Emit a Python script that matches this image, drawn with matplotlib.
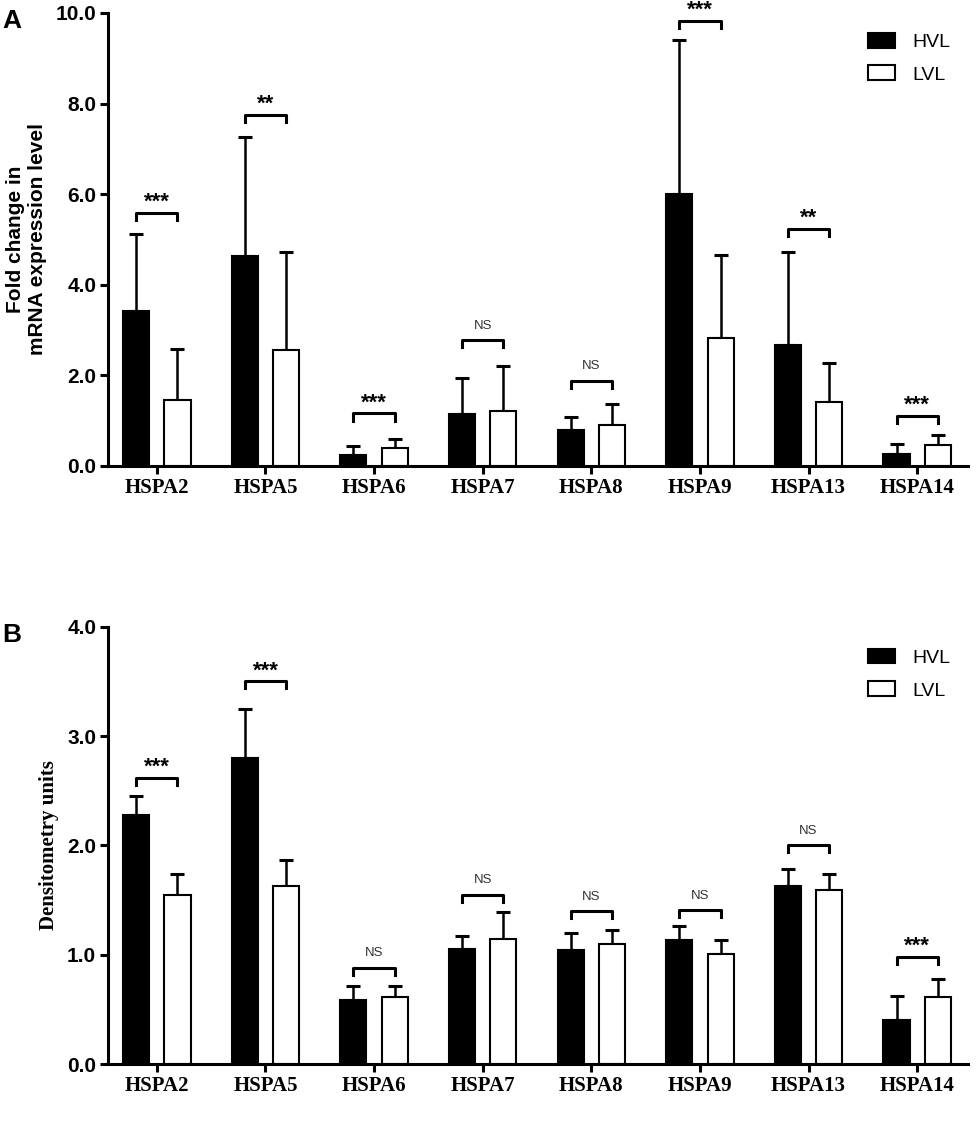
import numpy as np
import matplotlib
matplotlib.use('Agg')
import matplotlib.pyplot as plt

genes = ['HSPA2', 'HSPA5', 'HSPA6', 'HSPA7', 'HSPA8', 'HSPA9', 'HSPA13', 'HSPA14']

# panel A: fold change in mRNA expression
a_hvl = [3.41, 4.64, 0.24, 1.15, 0.79, 6.00, 2.66, 0.26]
a_hvl_err = [1.70, 2.63, 0.19, 0.79, 0.28, 3.40, 2.06, 0.22]
a_lvl = [1.46, 2.56, 0.39, 1.22, 0.91, 2.82, 1.41, 0.46]
a_lvl_err = [1.12, 2.16, 0.20, 0.99, 0.45, 1.84, 0.87, 0.22]
a_bracket = [5.58, 7.75, 1.16, 2.78, 1.88, 9.83, 5.23, 1.11]
a_sig = ['***', '**', '***', 'NS', 'NS', '***', '**', '***']

# panel B: densitometry
b_hvl = [2.28, 2.80, 0.59, 1.05, 1.04, 1.13, 1.63, 0.40]
b_hvl_err = [0.17, 0.45, 0.12, 0.12, 0.16, 0.13, 0.15, 0.22]
b_lvl = [1.55, 1.63, 0.61, 1.14, 1.10, 1.01, 1.59, 0.61]
b_lvl_err = [0.19, 0.24, 0.10, 0.25, 0.13, 0.12, 0.15, 0.17]
b_bracket = [2.62, 3.50, 0.88, 1.55, 1.40, 1.41, 2.00, 0.98]
b_sig = ['***', '***', 'NS', 'NS', 'NS', 'NS', 'NS', '***']

sans = ['Liberation Sans', 'DejaVu Sans']
serif = ['Liberation Serif', 'DejaVu Serif']

fig = plt.figure(figsize=(9.78, 11.25), dpi=100)
axA = fig.add_axes([0.1104, 0.5858, 0.8796, 0.4027])
axB = fig.add_axes([0.1104, 0.0542, 0.8796, 0.3887])


def draw_panel(ax, hvl, hvl_err, lvl, lvl_err, bracket, sig, ymax, step, leg_y):
    x = np.arange(len(genes))
    off = 0.19
    w = 0.24
    ax.bar(x - off, hvl, w, color='black', edgecolor='black', linewidth=1.5,
           label='HVL', zorder=2)
    ax.bar(x + off, lvl, w, color='white', edgecolor='black', linewidth=1.5,
           label='LVL', zorder=2)
    ax.errorbar(x - off, hvl, yerr=[np.zeros(len(x)), hvl_err], fmt='none',
                ecolor='black', elinewidth=1.8, capsize=5, capthick=2.2, zorder=1)
    ax.errorbar(x + off, lvl, yerr=[np.zeros(len(x)), lvl_err], fmt='none',
                ecolor='black', elinewidth=1.8, capsize=5, capthick=2.2, zorder=1)
    leg = 0.016 * ymax
    for i in range(len(x)):
        y = bracket[i]
        ax.plot([x[i] - off, x[i] - off, x[i] + off, x[i] + off],
                [y - leg, y, y, y - leg], color='black', lw=2.2, zorder=3)
        if sig[i] == 'NS':
            ax.annotate('NS', (x[i], y), xytext=(0, 6), textcoords='offset points',
                        ha='center', va='bottom', fontsize=9.5, color='#333333',
                        family=sans)
        else:
            ax.annotate(sig[i], (x[i], y), xytext=(0, 0), textcoords='offset points',
                        ha='center', va='bottom', fontsize=16, fontweight='bold',
                        family=sans)
    ax.set_xlim(-0.45, len(x) - 0.53)
    ax.set_ylim(0, ymax)
    ax.set_yticks(np.arange(0, ymax + 0.01, step))
    ax.set_yticklabels(['%.1f' % v for v in np.arange(0, ymax + 0.01, step)],
                       fontsize=15, fontweight='bold', family=sans)
    ax.set_xticks(x)
    ax.set_xticklabels(genes, fontsize=15, fontweight='bold', family=serif)
    ax.spines['top'].set_visible(False)
    ax.spines['right'].set_visible(False)
    ax.spines['left'].set_linewidth(2.2)
    ax.spines['bottom'].set_linewidth(2.2)
    ax.tick_params(axis='both', width=2.2, length=5.5, pad=3)
    ax.legend(loc='upper right', bbox_to_anchor=(1.0, leg_y), frameon=False,
              prop={'family': sans, 'size': 14}, handlelength=1.4,
              handleheight=0.8, labelspacing=0.75, handletextpad=0.9)


draw_panel(axA, a_hvl, a_hvl_err, a_lvl, a_lvl_err, a_bracket, a_sig, 10.0, 2.0, 0.995)
draw_panel(axB, b_hvl, b_hvl_err, b_lvl, b_lvl_err, b_bracket, b_sig, 4.0, 1.0, 0.99)

axA.set_ylabel('Fold change in\nmRNA expression level', fontsize=15,
               fontweight='bold', family=sans)
axA.yaxis.set_label_coords(-0.071, 0.5)
axB.set_ylabel('Densitometry units', fontsize=15, fontweight='bold',
               family=serif)
axB.yaxis.set_label_coords(-0.057, 0.5)

fig.text(0.002, 0.981, 'A', fontsize=19, fontweight='bold', family=sans, va='center')
fig.text(0.002, 0.436, 'B', fontsize=19, fontweight='bold', family=sans, va='center')

fig.savefig('out.png', dpi=100)
